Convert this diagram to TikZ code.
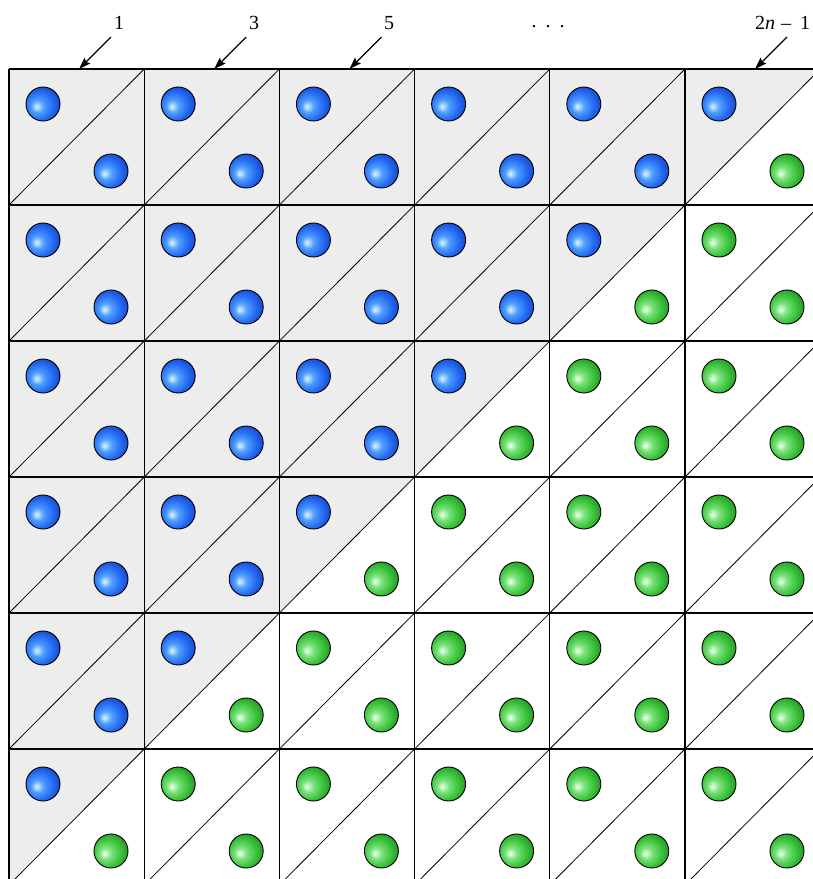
\documentclass[tikz,border=0pt]{standalone}
\usepackage{fontspec}
\setmainfont{Liberation Serif}
\usetikzlibrary{arrows.meta}
\definecolor{cellgray}{RGB}{237,237,237}
\definecolor{bA}{RGB}{225,245,255}
\definecolor{bB}{RGB}{80,160,255}
\definecolor{bC}{RGB}{38,108,242}
\definecolor{bD}{RGB}{22,70,205}
\definecolor{bE}{RGB}{10,40,150}
\definecolor{gA}{RGB}{240,255,240}
\definecolor{gB}{RGB}{120,225,120}
\definecolor{gC}{RGB}{60,195,60}
\definecolor{gD}{RGB}{35,150,35}
\definecolor{gE}{RGB}{20,100,20}
\pgfdeclareradialshading{blueball}{\pgfpoint{-10bp}{-4bp}}{color(0bp)=(bA); color(9bp)=(bB); color(20bp)=(bC); color(30bp)=(bD); color(50bp)=(bE)}
\pgfdeclareradialshading{greenball}{\pgfpoint{-10bp}{-4bp}}{color(0bp)=(gA); color(9bp)=(gB); color(20bp)=(gC); color(30bp)=(gD); color(50bp)=(gE)}
\tikzset{
  gridline/.style={line width=1.2pt, black},
  diagline/.style={line width=0.8pt, black},
  ball/.style={circle, draw=black, line width=0.9pt, minimum size=34pt, inner sep=0pt, shading=#1ball},
  arr/.style={line width=1.2pt, -{Stealth[length=12pt,width=8pt,inset=2pt]}},
  lab/.style={font=\fontsize{20}{24}\selectfont, inner sep=0pt, anchor=base}
}
\begin{document}
\begin{tikzpicture}[x=1pt,y=-1pt]
\useasboundingbox (0,0) rectangle (813,879);
\clip (0,0) rectangle (813,879);
% gray triangles
\foreach \j in {0,...,5}{
  \foreach \i in {0,...,5}{
    \pgfmathsetmacro\x{9+135.2*\i}
    \pgfmathsetmacro\y{69+136*\j}
    \pgfmathtruncatemacro\lim{10-2*\j}
    \pgfmathtruncatemacro\ku{2*\i}
    \pgfmathtruncatemacro\kl{2*\i+1}
    \ifnum\ku>\lim\else
      \fill[cellgray] (\x,\y) -- (\x+135.2,\y) -- (\x,\y+136) -- cycle;
    \fi
    \ifnum\kl>\lim\else
      \fill[cellgray] (\x+135.2,\y) -- (\x+135.2,\y+136) -- (\x,\y+136) -- cycle;
    \fi
  }
}
% grid
\foreach \i in {0,...,6}{
  \draw[gridline] (9+135.2*\i,69) -- (9+135.2*\i,890);
}
\foreach \j in {0,...,6}{
  \draw[gridline] (9,69+136*\j) -- (830,69+136*\j);
}
% diagonals
\foreach \j in {0,...,5}{
  \foreach \i in {0,...,5}{
    \pgfmathsetmacro\x{9+135.2*\i}
    \pgfmathsetmacro\y{69+136*\j}
    \draw[diagline] (\x,\y+136) -- (\x+135.2,\y);
  }
}
% balls
\foreach \j in {0,...,5}{
  \foreach \i in {0,...,5}{
    \pgfmathsetmacro\x{9+135.2*\i}
    \pgfmathsetmacro\y{69+136*\j}
    \pgfmathtruncatemacro\lim{10-2*\j}
    \pgfmathtruncatemacro\ku{2*\i}
    \pgfmathtruncatemacro\kl{2*\i+1}
    \ifnum\ku>\lim\def\cu{green}\else\def\cu{blue}\fi
    \ifnum\kl>\lim\def\cl{green}\else\def\cl{blue}\fi
    \node[ball=\cu] (u\i\j) at (\x+34,\y+35) {};
    \node[ball=\cl] (l\i\j) at (\x+102,\y+102) {};
  }
}
% labels and arrows
\node[lab] (n1) at (119,29) {1};
\node[lab] (n3) at (254,29) {3};
\node[lab] (n5) at (389,29) {5};
\node[lab] (ndots) at (548,27) {.\hspace{9pt}.\hspace{9pt}.};
\node[lab, anchor=base west] (nlast) at (755,29) {2\textit{n}\hspace{6pt}–\hspace{9pt}1};
\coordinate (s1) at (111,37); \coordinate (t1) at (79,69);
\coordinate (s3) at (246.2,37); \coordinate (t3) at (214.2,69);
\coordinate (s5) at (381.4,37); \coordinate (t5) at (349.4,69);
\coordinate (sl) at (787,37); \coordinate (tl) at (755,69);
\draw[arr] (s1) -- (t1);
\draw[arr] (s3) -- (t3);
\draw[arr] (s5) -- (t5);
\draw[arr] (sl) -- (tl);
\end{tikzpicture}
\end{document}
